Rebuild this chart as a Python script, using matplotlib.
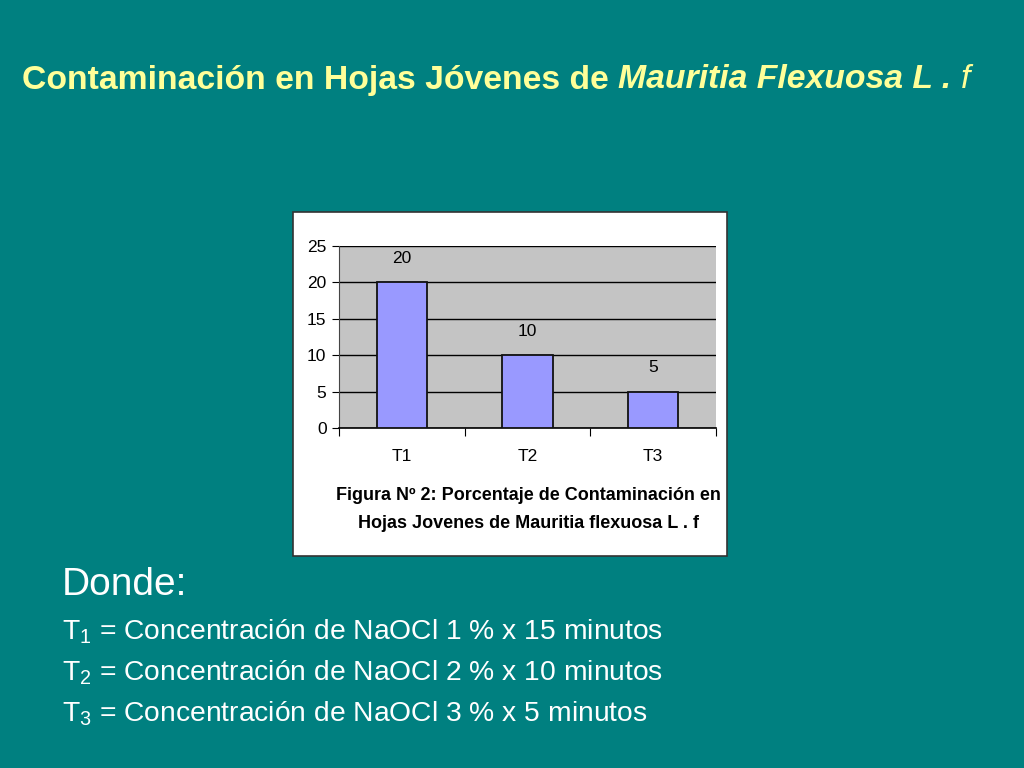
import matplotlib.pyplot as plt
from matplotlib.patches import Rectangle

categories = ['T1', 'T2', 'T3']
values = [20, 10, 5]
yticks = [0, 5, 10, 15, 20, 25]
notes = [
    ('1', 'Concentración de NaOCl 1 % x 15 minutos'),
    ('2', 'Concentración de NaOCl 2 % x 10 minutos'),
    ('3', 'Concentración de NaOCl 3 % x 5 minutos'),
]

plt.rcParams['font.family'] = ['Liberation Sans', 'DejaVu Sans']

fig = plt.figure(figsize=(10.24, 7.68), dpi=100)
fig.patch.set_facecolor('#008080')

# title, mixed bold / italic
title_y = 1 - 80 / 768
t1 = fig.text(22 / 1024, title_y, 'Contaminación en Hojas Jóvenes de ', color='#FFFF99',
              fontsize=24.3, fontweight='bold', va='center', ha='left')
fig.canvas.draw()
r = fig.canvas.get_renderer()
bb = t1.get_window_extent(r)
t2 = fig.text(bb.x1 / 1024, title_y, 'Mauritia Flexuosa L . ', color='#FFFF99',
              fontsize=24.3, fontweight='bold', style='italic', va='center', ha='left')
bb = t2.get_window_extent(r)
fig.text(bb.x1 / 1024, title_y, 'f', color='#FFFF99', fontsize=24.3, style='italic',
         va='center', ha='left')

# white chart frame
fig.patches.append(Rectangle((293 / 1024, 1 - 556 / 768), 434 / 1024, 344 / 768,
                             transform=fig.transFigure, facecolor='white',
                             edgecolor='#333333', linewidth=1.2, zorder=0))

ax = fig.add_axes([339 / 1024, 1 - 428 / 768, 377 / 1024, 182 / 768])
ax.set_zorder(2)
ax.set_facecolor('#C4C4C4')
x = range(len(categories))
bars = ax.bar(x, values, width=0.4, color='#9999FF', edgecolor='#111111', linewidth=1.3, zorder=3)
for xi, v in zip(x, values):
    ax.annotate(str(v), (xi, v), xytext=(0, 17), textcoords='offset points',
                ha='center', va='center', fontsize=12.5)
ax.set_xlim(-0.5, len(categories) - 0.5)
ax.set_ylim(0, 25)
ax.set_yticks(yticks)
ax.yaxis.grid(True, color='black', linewidth=1, zorder=1)
ax.set_axisbelow(True)
ax.set_xticks([i - 0.5 for i in range(len(categories) + 1)])
ax.set_xticklabels([])
ax.set_xticks(list(x), minor=True)
ax.set_xticklabels(categories, minor=True)
ax.tick_params(axis='x', which='minor', length=0, pad=15, labelsize=12.5)
ax.tick_params(axis='x', which='major', length=6, direction='out')
ax.tick_params(axis='y', length=5, labelsize=12.5, pad=4)
for s in ['top', 'right']:
    ax.spines[s].set_visible(False)
ax.spines['left'].set_color('#444444')
ax.spines['bottom'].set_color('black')
ax.spines['bottom'].set_linewidth(1.2)

cap_font = ['Liberation Sans Narrow', 'Liberation Sans', 'DejaVu Sans']
fig.text(528 / 1024, 1 - 495 / 768, 'Figura Nº 2: Porcentaje de Contaminación en',
         family=cap_font, fontsize=13, fontweight='bold', ha='center', va='center')
fig.text(528 / 1024, 1 - 523 / 768, 'Hojas Jovenes de Mauritia flexuosa L . f',
         family=cap_font, fontsize=13, fontweight='bold', ha='center', va='center')

fig.text(62 / 1024, 1 - 585 / 768, 'Donde:', color='white', fontsize=28,
         ha='left', va='center')
for i, (sub, desc) in enumerate(notes):
    fig.text(62 / 1024, 1 - (632 + 41 * i) / 768, r'T$_\mathregular{' + sub + '}$ = ' + desc,
             color='white', fontsize=20.3, ha='left', va='center')

fig.savefig('out.png', dpi=100, facecolor=fig.get_facecolor())
